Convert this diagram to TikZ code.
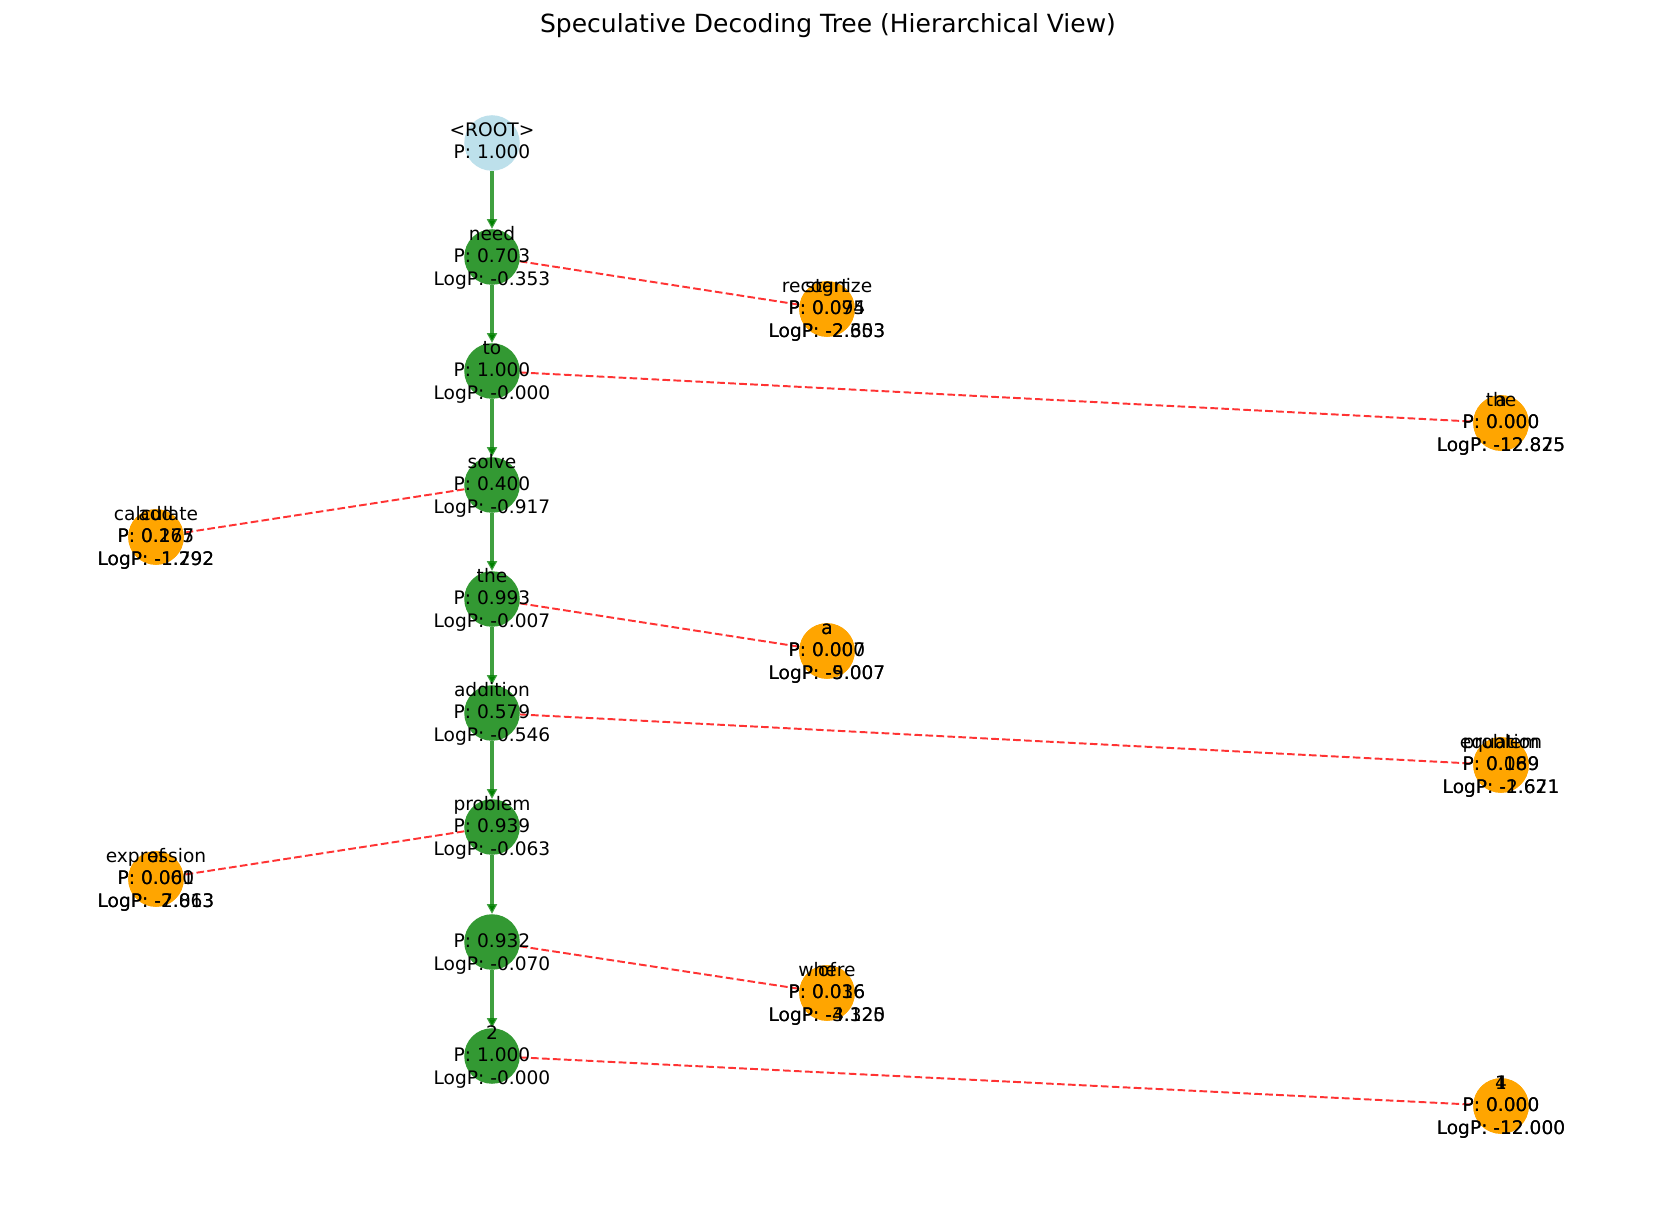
\documentclass[tikz,border=0pt]{standalone}
\usepackage{fontspec}
\setmainfont{DejaVu Sans}
\usetikzlibrary{arrows.meta}
\pgfdeclarelayer{edges}
\pgfsetlayers{edges,main}
\definecolor{gfill}{RGB}{0,128,0}
\definecolor{gedgec}{RGB}{0,128,0}
\definecolor{ofill}{RGB}{255,165,0}
\definecolor{rootc}{RGB}{173,216,230}
\newcommand\tlab[3]{\strut #1\\#2\\#3}
\tikzset{
  gnode/.style={circle,minimum size=40pt,inner sep=0pt,fill=gfill,fill opacity=0.8,draw=none},
  rnode/.style={circle,minimum size=40pt,inner sep=0pt,fill=rootc,fill opacity=0.8,draw=none},
  onode/.style={circle,minimum size=40pt,inner sep=0pt,fill=ofill,draw=none},
  lbl/.style={align=center,inner sep=0pt,font=\fontsize{13.4}{16.1}\selectfont,text=black},
  gedge/.style={draw=gedgec,draw opacity=0.75,line width=2.8pt,-{Triangle[length=7pt,width=7pt]}},
  redge/.style={draw=red,draw opacity=0.8,line width=1.4pt,dash pattern=on 5.5pt off 2.4pt},
}
\begin{document}
\begin{tikzpicture}[x=0.72pt,y=-0.72pt]
\useasboundingbox (0,0) rectangle (1657,1216);
\node[lbl,font=\fontsize{18}{21.6}\selectfont] (title) at (828,26) {Speculative Decoding Tree (Hierarchical View)};
% main chain circles
\node[rnode] (n0) at (492,143) {};
\node[gnode] (n1) at (492,257) {};
\node[gnode] (n2) at (492,371) {};
\node[gnode] (n3) at (492,485) {};
\node[gnode] (n4) at (492,599) {};
\node[gnode] (n5) at (492,713) {};
\node[gnode] (n6) at (492,827) {};
\node[gnode] (n7) at (492,942) {};
\node[gnode] (n8) at (492,1056) {};
% alternative circles
\node[onode] (o1a) at (827,309) {};
\node[onode] (o1b) at (827,309) {};
\node[onode] (o2a) at (1501,423) {};
\node[onode] (o2b) at (1501,423) {};
\node[onode] (o3a) at (156,537) {};
\node[onode] (o3b) at (156,537) {};
\node[onode] (o4a) at (827,651) {};
\node[onode] (o4b) at (827,651) {};
\node[onode] (o5a) at (1501,765) {};
\node[onode] (o5b) at (1501,765) {};
\node[onode] (o6a) at (156,879) {};
\node[onode] (o6b) at (156,879) {};
\node[onode] (o7a) at (827,993) {};
\node[onode] (o7b) at (827,993) {};
\node[onode] (o8a) at (1501,1106) {};
\node[onode] (o8b) at (1501,1106) {};
% edges (behind the circles)
\begin{pgfonlayer}{edges}
\draw[gedge] (n0) -- (n1);
\draw[gedge] (n1) -- (n2);
\draw[gedge] (n2) -- (n3);
\draw[gedge] (n3) -- (n4);
\draw[gedge] (n4) -- (n5);
\draw[gedge] (n5) -- (n6);
\draw[gedge] (n6) -- (n7);
\draw[gedge] (n7) -- (n8);
\draw[redge] (n1) -- (o1a);
\draw[redge] (n2) -- (o2a);
\draw[redge] (n3) -- (o3a);
\draw[redge] (n4) -- (o4a);
\draw[redge] (n5) -- (o5a);
\draw[redge] (n6) -- (o6a);
\draw[redge] (n7) -- (o7a);
\draw[redge] (n8) -- (o8a);
\end{pgfonlayer}
% labels
\node[lbl] (t0) at (n0) {\strut <ROOT>\\P: 1.000\strut};
\node[lbl] (t1) at (n1) {\tlab{need}{P: 0.703}{LogP: -0.353}};
\node[lbl] (t2) at (n2) {\tlab{to}{P: 1.000}{LogP: -0.000}};
\node[lbl] (t3) at (n3) {\tlab{solve}{P: 0.400}{LogP: -0.917}};
\node[lbl] (t4) at (n4) {\tlab{the}{P: 0.993}{LogP: -0.007}};
\node[lbl] (t5) at (n5) {\tlab{addition}{P: 0.579}{LogP: -0.546}};
\node[lbl] (t6) at (n6) {\tlab{problem}{P: 0.939}{LogP: -0.063}};
\node[lbl] (t7) at (n7) {\tlab{}{P: 0.932}{LogP: -0.070}};
\node[lbl] (t8) at (n8) {\tlab{2}{P: 1.000}{LogP: -0.000}};
\node[lbl] (u1a) at (o1a) {\tlab{recognize}{P: 0.095}{LogP: -2.353}};
\node[lbl] (u1b) at (o1b) {\tlab{start}{P: 0.074}{LogP: -2.603}};
\node[lbl] (u2a) at (o2a) {\tlab{the}{P: 0.000}{LogP: -12.825}};
\node[lbl] (u2b) at (o2b) {\tlab{a}{P: 0.000}{LogP: -12.875}};
\node[lbl] (u3a) at (o3a) {\tlab{calculate}{P: 0.275}{LogP: -1.292}};
\node[lbl] (u3b) at (o3b) {\tlab{add}{P: 0.167}{LogP: -1.792}};
\node[lbl] (u4a) at (o4a) {\tlab{a}{P: 0.007}{LogP: -5.007}};
\node[lbl] (u4b) at (o4b) {\tlab{a}{P: 0.000}{LogP: -9.007}};
\node[lbl] (u5a) at (o5a) {\tlab{equation}{P: 0.189}{LogP: -1.671}};
\node[lbl] (u5b) at (o5b) {\tlab{problem}{P: 0.069}{LogP: -2.621}};
\node[lbl] (u6a) at (o6a) {\tlab{expression}{P: 0.060}{LogP: -2.813}};
\node[lbl] (u6b) at (o6b) {\tlab{of}{P: 0.001}{LogP: -7.063}};
\node[lbl] (u7a) at (o7a) {\tlab{where}{P: 0.036}{LogP: -3.325}};
\node[lbl] (u7b) at (o7b) {\tlab{of}{P: 0.016}{LogP: -4.120}};
\node[lbl] (u8a) at (o8a) {\tlab{4}{P: 0.000}{LogP: -12.000}};
\node[lbl] (u8b) at (o8b) {\tlab{1}{P: 0.000}{LogP: -12.000}};
\end{tikzpicture}
\end{document}
